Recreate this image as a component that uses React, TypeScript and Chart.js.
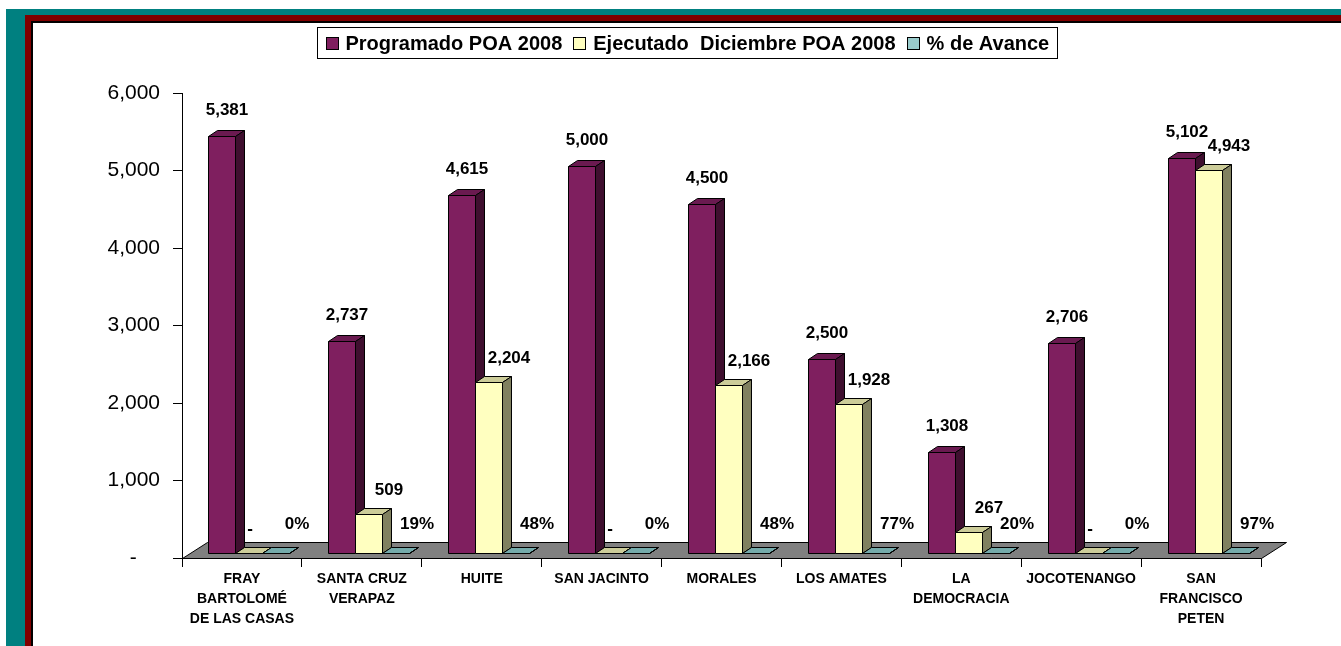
import React, { useEffect, useRef } from "react";
import { Chart, registerables } from "chart.js";

Chart.register(...registerables);

// ---------- data ----------
const categories: string[][] = [
  ["FRAY", "BARTOLOMÉ", "DE LAS CASAS"],
  ["SANTA CRUZ", "VERAPAZ"],
  ["HUITE"],
  ["SAN JACINTO"],
  ["MORALES"],
  ["LOS AMATES"],
  ["LA", "DEMOCRACIA"],
  ["JOCOTENANGO"],
  ["SAN", "FRANCISCO", "PETEN"],
];
const programado = [5381, 2737, 4615, 5000, 4500, 2500, 1308, 2706, 5102];
const ejecutado = [0, 509, 2204, 0, 2166, 1928, 267, 0, 4943];
const avance = [0, 0.19, 0.48, 0, 0.48, 0.77, 0.2, 0, 0.97];
const seriesNames = ["Programado POA 2008", "Ejecutado  Diciembre POA 2008", "% de Avance"];
const yTickValues = [0, 1000, 2000, 3000, 4000, 5000, 6000];

// ---------- styles ----------
const FONT = '"Liberation Sans", Arial, Helvetica, sans-serif';
const faces = [
  { front: "#7F1F5F", top: "#6A1A50", side: "#3F0F2F" },
  { front: "#FFFFC0", top: "#CCCC99", side: "#808060" },
  { front: "#99CCCC", top: "#74AAAA", side: "#4D6666" },
];
const BAR_DX = 7;
const BAR_DY = -5;
const DEPTH_X = 9;
const DEPTH_Y = -6;
const FLOOR_DX = 25;
const FLOOR_DY = -16;
const labelOffsets = [
  { dx: 5, dy: -26 },
  { dx: 20, dy: -24 },
  { dx: 21, dy: -29 },
];

const fmt = (v: number) => v.toLocaleString("en-US");
const labelText = (d: number, v: number) => {
  if (d === 0) return fmt(v);
  if (d === 1) return v === 0 ? "-" + " ".repeat(8) : fmt(v);
  return Math.round(v * 100) + "%";
};

const px = (v: number) => Math.round(v) + 0.5;

const bar3dPlugin = {
  id: "bar3d",
  beforeDatasetsDraw(chart: any) {
    const ctx: CanvasRenderingContext2D = chart.ctx;
    const xs = chart.scales.x;
    const ys = chart.scales.y;
    const y0 = px(ys.getPixelForValue(0));
    const l = px(xs.left);
    const r = px(xs.right);
    ctx.save();
    ctx.lineWidth = 1;
    ctx.strokeStyle = "#000";
    // floor
    ctx.beginPath();
    ctx.moveTo(l, y0);
    ctx.lineTo(r, y0);
    ctx.lineTo(r + FLOOR_DX, y0 + FLOOR_DY);
    ctx.lineTo(l + FLOOR_DX, y0 + FLOOR_DY);
    ctx.closePath();
    ctx.fillStyle = "#808080";
    ctx.fill();
    ctx.stroke();

    const n = chart.data.labels.length;
    const nd = chart.data.datasets.length;
    const boxes: any[] = [];
    for (let i = 0; i < n; i++) {
      for (let d = 0; d < nd; d++) {
        const el = chart.getDatasetMeta(d).data[i];
        const p = el.getProps(["x", "y", "base", "width"], true);
        const x0 = px(p.x - p.width / 2 + BAR_DX);
        const x1 = px(p.x + p.width / 2 + BAR_DX);
        const yt = px(Math.min(p.y, p.base) + BAR_DY);
        const yb = px(p.base + BAR_DY);
        const f = faces[d];
        // top face
        ctx.beginPath();
        ctx.moveTo(x0, yt);
        ctx.lineTo(x1, yt);
        ctx.lineTo(x1 + DEPTH_X, yt + DEPTH_Y);
        ctx.lineTo(x0 + DEPTH_X, yt + DEPTH_Y);
        ctx.closePath();
        ctx.fillStyle = f.top;
        ctx.fill();
        ctx.stroke();
        // side face
        ctx.beginPath();
        ctx.moveTo(x1, yt);
        ctx.lineTo(x1 + DEPTH_X, yt + DEPTH_Y);
        ctx.lineTo(x1 + DEPTH_X, yb + DEPTH_Y);
        ctx.lineTo(x1, yb);
        ctx.closePath();
        ctx.fillStyle = f.side;
        ctx.fill();
        ctx.stroke();
        // front face
        ctx.beginPath();
        ctx.rect(x0, yt, x1 - x0, yb - yt);
        ctx.fillStyle = f.front;
        ctx.fill();
        ctx.stroke();
        boxes.push({ d, i, cx: (x0 + x1) / 2, top: yt });
      }
    }
    // value labels
    ctx.fillStyle = "#000";
    ctx.font = `bold 17px ${FONT}`;
    ctx.textAlign = "center";
    ctx.textBaseline = "middle";
    for (const b of boxes) {
      const v = chart.data.datasets[b.d].data[b.i];
      const o = labelOffsets[b.d];
      const ty = b.d === 2 ? y0 + BAR_DY + o.dy : b.top + o.dy;
      ctx.fillText(labelText(b.d, v), b.cx + o.dx, ty);
    }
    ctx.restore();
    return false;
  },
  afterDraw(chart: any) {
    const ctx: CanvasRenderingContext2D = chart.ctx;
    ctx.save();
    ctx.font = `bold 20px ${FONT}`;
    ctx.textBaseline = "middle";
    ctx.textAlign = "left";
    const sq = 12, gapSq = 8, gapItem = 11, pad = 8;
    const ds = chart.data.datasets;
    const widths = ds.map((d: any) => ctx.measureText(d.label).width);
    let total = pad * 2;
    widths.forEach((w: number, k: number) => {
      total += sq + gapSq + w + (k > 0 ? gapItem : 0);
    });
    const cxm = chart.width / 2;
    const bx = Math.round(cxm - total / 2) + 0.5;
    const by = 4.5;
    const bh = 31;
    ctx.fillStyle = "#fff";
    ctx.fillRect(bx, by, total, bh);
    ctx.strokeStyle = "#000";
    ctx.lineWidth = 1;
    ctx.strokeRect(bx, by, Math.round(total), bh);
    const my = by + bh / 2;
    let x = bx + pad;
    ds.forEach((d: any, k: number) => {
      if (k > 0) x += gapItem;
      ctx.fillStyle = d.backgroundColor;
      const sy = Math.round(my - sq / 2) + 0.5;
      ctx.fillRect(Math.round(x) + 0.5, sy, sq, sq);
      ctx.strokeRect(Math.round(x) + 0.5, sy, sq, sq);
      x += sq + gapSq;
      ctx.fillStyle = "#000";
      ctx.fillText(d.label, x, my + 1);
      x += widths[k];
    });
    ctx.restore();
  },
};

export default function App() {
  const ref = useRef<HTMLCanvasElement | null>(null);
  useEffect(() => {
    if (!ref.current) return;
    const chart = new Chart(ref.current, {
      type: "bar",
      data: {
        labels: categories as any,
        datasets: [
          { label: seriesNames[0], data: programado, backgroundColor: faces[0].front },
          { label: seriesNames[1], data: ejecutado, backgroundColor: faces[1].front },
          { label: seriesNames[2], data: avance, backgroundColor: faces[2].front },
        ].map((d) => ({ ...d, barPercentage: 1, categoryPercentage: 0.675, borderWidth: 0 })),
      },
      options: {
        animation: false,
        responsive: false,
        layout: { padding: { left: 0, right: 80, top: 70, bottom: 0 } },
        plugins: { legend: { display: false }, tooltip: { enabled: false } },
        scales: {
          x: {
            type: "category",
            offset: true,
            grid: {
              display: true,
              drawOnChartArea: false,
              drawTicks: true,
              tickLength: 9,
              color: "#000",
              offset: true,
            },
            border: { display: true, color: "#000", width: 1 },
            ticks: {
              color: "#000",
              font: { family: FONT, size: 14, weight: "bold", lineHeight: 20 / 14 },
              padding: 2,
              maxRotation: 0,
              minRotation: 0,
              autoSkip: false,
            },
            afterFit: (s: any) => {
              s.height = 88;
            },
          },
          y: {
            min: 0,
            max: 6000,
            afterBuildTicks: (s: any) => {
              s.ticks = yTickValues.map((v) => ({ value: v }));
            },
            grid: { display: true, drawOnChartArea: false, tickLength: 9, color: "#000" },
            border: { display: true, color: "#000", width: 1 },
            ticks: {
              color: "#000",
              font: { family: FONT, size: 21 },
              padding: 13,
              callback: (v: any) => (Number(v) === 0 ? "-    " : fmt(Number(v))),
            },
            afterFit: (s: any) => {
              s.width = 149;
            },
          },
        },
      } as any,
      plugins: [bar3dPlugin as any],
    });
    return () => chart.destroy();
  }, []);

  return (
    <div style={{ position: "fixed", left: 0, top: 0, width: 1341, height: 646, background: "#fff", overflow: "hidden" }}>
      <div style={{ position: "absolute", left: 6, top: 9, right: 0, bottom: 0, background: "#008080" }} />
      <div style={{ position: "absolute", left: 25, top: 15, right: 0, bottom: 0, background: "#800000" }} />
      <div style={{ position: "absolute", left: 31, top: 21, right: 0, bottom: 0, background: "#000" }} />
      <div style={{ position: "absolute", left: 33, top: 23, right: 0, bottom: 0, background: "#fff" }}>
        <canvas ref={ref} width={1308} height={623} style={{ display: "block", width: 1308, height: 623 }} />
      </div>
    </div>
  );
}
